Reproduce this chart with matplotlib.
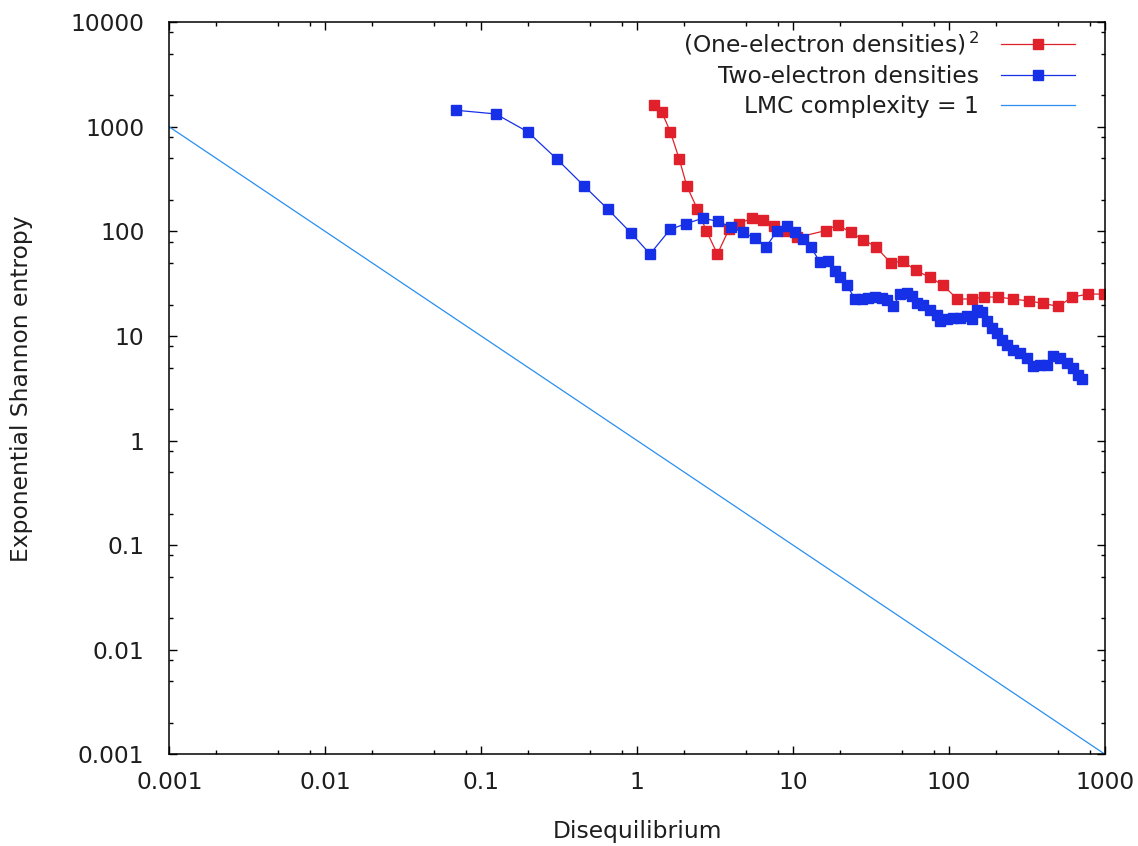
import matplotlib
matplotlib.use("Agg")
import matplotlib.pyplot as plt
from matplotlib.ticker import LogLocator, NullFormatter, FixedLocator, FixedFormatter

# ---- data ----
one_x = [1.29, 1.44, 1.63, 1.86, 2.08, 2.43, 2.78, 3.27, 3.88, 4.52, 5.43, 6.38, 7.57,
         9.01, 10.6, 16.2, 19.3, 23.4, 28.2, 33.9, 42.3, 50.5, 61.1, 75.5, 91.0, 113,
         140, 168, 207, 256, 327, 402, 502, 617, 782, 986]
one_y = [1622, 1380, 902, 494, 273, 164, 101, 60.8, 105, 119, 134, 129, 114,
         100, 87.6, 102, 116, 97.9, 83.4, 71.5, 49.9, 52.2, 42.4, 36.4, 30.8, 22.6,
         22.6, 23.6, 23.6, 22.6, 21.6, 20.5, 19.2, 23.6, 25.2, 25.2]

two_x = [0.0686, 0.124, 0.199, 0.305, 0.456, 0.647, 0.910, 1.21, 1.63, 2.07, 2.64, 3.28,
         4.02, 4.75, 5.70, 6.70, 7.92, 9.10, 10.3, 11.6, 13.0, 14.9, 16.7, 18.6, 20.0,
         22.1, 24.9, 27.5, 30.3, 33.5, 37.0, 39.8, 43.9, 48.5, 53.5, 57.6, 62.0, 68.4,
         75.5, 83.3, 87.5, 96.6, 106, 117, 130, 140, 150, 162, 174, 188, 202, 218, 234,
         258, 285, 315, 347, 383, 423, 466, 514, 568, 627, 675, 709]
two_y = [1444, 1330, 896, 494, 273, 164, 97.2, 60.8, 105, 119, 134, 125,
         110, 97.8, 86.4, 71.0, 102, 114, 98.6, 84.6, 71.0, 50.6, 52.5, 42.2, 36.4,
         30.8, 22.6, 22.6, 23.1, 23.6, 23.1, 22.3, 19.2, 25.4, 25.8, 24.0, 20.7, 20.0,
         17.9, 16.0, 13.8, 14.6, 14.9, 14.9, 15.4, 14.5, 17.6, 16.8, 13.8, 11.9, 10.7, 9.25, 8.28,
         7.42, 6.90, 6.18, 5.14, 5.33, 5.33, 6.40, 6.18, 5.53, 4.96, 4.28, 3.89]

lmc_x = [0.001, 1000]
lmc_y = [1000, 0.001]

labels = ["(One-electron densities)$^{\\,2}$", "Two-electron densities", "LMC complexity = 1"]
xticks = [0.001, 0.01, 0.1, 1, 10, 100, 1000]
xticklabels = ["0.001", "0.01", "0.1", "1", "10", "100", "1000"]
yticks = [0.001, 0.01, 0.1, 1, 10, 100, 1000, 10000]
yticklabels = ["0.001", "0.01", "0.1", "1", "10", "100", "1000", "10000"]

RED = "#e0202a"
BLUE = "#1530e6"
LIGHT = "#2a8ff0"
TXT = "#1e1e1e"
FS = 16.8

plt.rcParams["font.family"] = ["DejaVu Sans"]
fig = plt.figure(figsize=(11.38, 8.46), dpi=100)
ax = fig.add_axes([0.1488, 0.1084, 0.971 - 0.1488, 0.9736 - 0.1084])

ax.plot(one_x, one_y, color=RED, lw=0.9, marker="s", ms=6.5, mec=RED, mfc=RED,
        label=labels[0])
ax.plot(two_x, two_y, color=BLUE, lw=0.9, marker="s", ms=6.5, mec=BLUE, mfc=BLUE,
        label=labels[1])
ax.plot(lmc_x, lmc_y, color=LIGHT, lw=0.9, label=labels[2])

ax.set_xscale("log")
ax.set_yscale("log")
ax.set_xlim(0.001, 1000)
ax.set_ylim(0.001, 10000)

ax.xaxis.set_major_locator(FixedLocator(xticks))
ax.xaxis.set_major_formatter(FixedFormatter(xticklabels))
ax.yaxis.set_major_locator(FixedLocator(yticks))
ax.yaxis.set_major_formatter(FixedFormatter(yticklabels))
ax.xaxis.set_minor_locator(LogLocator(base=10, subs=(2, 5, 8), numticks=20))
ax.yaxis.set_minor_locator(LogLocator(base=10, subs=(2, 5, 8), numticks=20))
ax.xaxis.set_minor_formatter(NullFormatter())
ax.yaxis.set_minor_formatter(NullFormatter())

ax.tick_params(which="both", direction="in", top=True, right=True, colors="black",
               labelcolor=TXT, labelsize=FS)
ax.tick_params(which="major", length=5.5, width=1)
ax.tick_params(which="minor", length=2.6, width=1)
ax.tick_params(axis="x", which="major", pad=12)
ax.tick_params(axis="y", which="major", pad=18)
for s in ax.spines.values():
    s.set_linewidth(1.1)

ax.set_xlabel("Disequilibrium", fontsize=FS, color=TXT, labelpad=19)
ax.set_ylabel("Exponential Shannon entropy", fontsize=FS, color=TXT, labelpad=27)

leg = ax.legend(loc="upper right", frameon=False, markerfirst=False, fontsize=FS,
                handlelength=3.15, handletextpad=0.95, labelspacing=0.33,
                borderaxespad=0.3, bbox_to_anchor=(0.985, 1.012))
for t in leg.get_texts():
    t.set_color(TXT)

fig.savefig("out.png", dpi=100)
